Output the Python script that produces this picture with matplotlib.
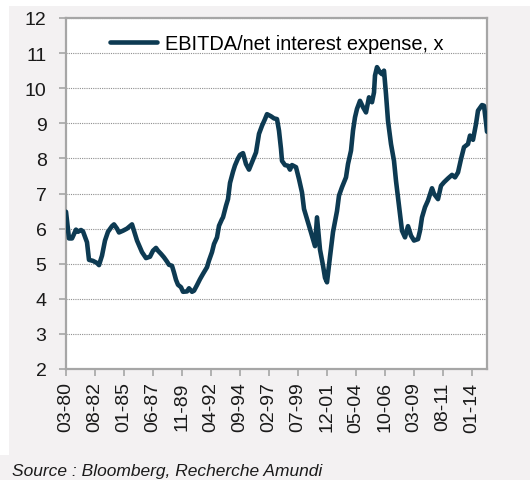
import numpy as np
import pandas as pd
import matplotlib
matplotlib.use("Agg")
import matplotlib.pyplot as plt
from matplotlib.patches import Rectangle

plt.rcParams['font.family'] = ['Liberation Sans', 'DejaVu Sans']

# EBITDA / net interest expense (x), read at turning points of the monthly series
dates = [
    "1980-03", "1980-06", "1980-09", "1981-01", "1981-03", "1981-06", "1981-08", "1981-12",
    "1982-02", "1982-06", "1982-10", "1982-12", "1983-03", "1983-06", "1983-09", "1984-01",
    "1984-03", "1984-06", "1984-08", "1984-12", "1985-04", "1985-07", "1985-09", "1985-11",
    "1986-02", "1986-07", "1986-11", "1987-03", "1987-06", "1987-09", "1987-11", "1988-02",
    "1988-05", "1988-08", "1988-10", "1989-01", "1989-03", "1989-05", "1989-07", "1989-10",
    "1989-12", "1990-04", "1990-06", "1990-09", "1990-11", "1991-02", "1991-05", "1991-08",
    "1991-12", "1992-02", "1992-05", "1992-07", "1992-10", "1992-12", "1993-03", "1993-04",
    "1993-07", "1993-09", "1993-11", "1994-02", "1994-04", "1994-07", "1994-09", "1994-12",
    "1995-03", "1995-06", "1995-09", "1996-01", "1996-04", "1996-07", "1996-10", "1996-12",
    "1997-04", "1997-07", "1997-10", "1997-12", "1998-02", "1998-03", "1998-06", "1998-09",
    "1998-11", "1999-01", "1999-05", "1999-08", "1999-11", "2000-01", "2000-05", "2000-08",
    "2000-12", "2001-02", "2001-05", "2001-08", "2001-10", "2001-12", "2002-03", "2002-06",
    "2002-10", "2002-12", "2003-03", "2003-07", "2003-09", "2003-12", "2004-02", "2004-04",
    "2004-06", "2004-09", "2004-12", "2005-03", "2005-06", "2005-09", "2005-11", "2005-12",
    "2006-02", "2006-05", "2006-07", "2006-09", "2006-11", "2007-01", "2007-04", "2007-07",
    "2007-09", "2007-11", "2008-01", "2008-03", "2008-06", "2008-09", "2008-12", "2009-03",
    "2009-07", "2009-09", "2009-11", "2010-02", "2010-05", "2010-09", "2010-11", "2011-03",
    "2011-06", "2011-09", "2012-01", "2012-05", "2012-08", "2012-11", "2013-02", "2013-05",
    "2013-09", "2013-11", "2014-02", "2014-05", "2014-07", "2014-11", "2015-01", "2015-03",
    "2015-04",
]
ratio = [
    6.48, 5.72, 5.72, 5.97, 5.91, 5.96, 5.92, 5.61,
    5.11, 5.08, 5.02, 4.96, 5.23, 5.66, 5.91, 6.07,
    6.12, 6.00, 5.89, 5.94, 6.00, 6.07, 6.12, 5.94,
    5.66, 5.33, 5.16, 5.20, 5.37, 5.45, 5.37, 5.28,
    5.18, 5.06, 4.97, 4.94, 4.75, 4.54, 4.40, 4.33,
    4.20, 4.21, 4.30, 4.20, 4.23, 4.39, 4.56, 4.71,
    4.90, 5.09, 5.33, 5.56, 5.75, 6.08, 6.27, 6.32,
    6.65, 6.84, 7.30, 7.62, 7.80, 8.00, 8.10, 8.15,
    7.84, 7.68, 7.89, 8.17, 8.70, 8.93, 9.12, 9.26,
    9.20, 9.14, 9.12, 8.79, 8.27, 7.93, 7.81, 7.79,
    7.68, 7.81, 7.75, 7.41, 7.03, 6.56, 6.18, 5.89,
    5.50, 6.32, 5.40, 4.95, 4.60, 4.47, 5.20, 5.90,
    6.50, 6.94, 7.18, 7.46, 7.84, 8.22, 8.79, 9.17,
    9.41, 9.64, 9.46, 9.31, 9.74, 9.60, 9.88, 10.36,
    10.60, 10.45, 10.40, 10.50, 9.83, 9.07, 8.41, 7.93,
    7.36, 6.89, 6.42, 5.94, 5.75, 6.07, 5.80, 5.66,
    5.70, 5.94, 6.32, 6.61, 6.80, 7.15, 6.99, 6.84,
    7.22, 7.32, 7.43, 7.53, 7.46, 7.60, 7.98, 8.32,
    8.41, 8.65, 8.53, 8.98, 9.36, 9.52, 9.50, 9.03,
    8.76,
]
series_name = "EBITDA/net interest expense, x"
source_text = "Source : Bloomberg, Recherche Amundi"
label_every = 29  # months between category labels

line_color = "#0d3a52"
bg_color = "#f3f1f2"
axis_gray = "#a6a6a6"

periods = pd.PeriodIndex(dates, freq="M")
start = periods[0]
xpos = np.array([(p - start).n for p in periods])
n_months = xpos[-1]

fig = plt.figure(figsize=(5.30, 4.81), dpi=100, facecolor=bg_color)
# white margins on top and left of the grey panel
fig.patches.append(Rectangle((0, 1 - 7 / 481), 1, 7 / 481, transform=fig.transFigure,
                             facecolor="white", edgecolor="none", zorder=0))
fig.patches.append(Rectangle((0, 1 - 456 / 481), 9 / 530, 1, transform=fig.transFigure,
                             facecolor="white", edgecolor="none", zorder=0))

ax = fig.add_axes([66 / 530, 1 - 370 / 481, 421 / 530, 351 / 481])
ax.set_facecolor("white")

ax.plot(xpos, ratio, color=line_color, lw=3.3, solid_joinstyle="round",
        solid_capstyle="round", label=series_name, zorder=3)

ax.set_xlim(0, n_months)
ax.set_ylim(2, 12)
ax.set_yticks(np.arange(2, 13, 1))
ax.yaxis.grid(True, color="#8f8f8f", linestyle=(0, (1, 1)), linewidth=0.8)
ax.set_axisbelow(True)

tick_pos = np.arange(0, n_months + 1, label_every)
ax.set_xticks(tick_pos)
ax.set_xticklabels([(start + int(k)).strftime("%m-%y") for k in tick_pos],
                   rotation=90, fontsize=14, color="#1a1a1a")
for lab in ax.get_yticklabels():
    lab.set_fontsize(14)
    lab.set_color("#1a1a1a")

for side in ["left", "right", "top", "bottom"]:
    ax.spines[side].set_color(axis_gray)
    ax.spines[side].set_linewidth(1.6)
ax.tick_params(axis="both", color=axis_gray, width=1.2, length=5)
ax.tick_params(axis="x", pad=4)
ax.tick_params(axis="y", pad=9)

ax.legend(loc="upper left", bbox_to_anchor=(0.104, 0.955), frameon=False,
          fontsize=14.4, handlelength=2.35, handletextpad=0.4,
          borderpad=0, borderaxespad=0)

fig.text(12 / 530, 1 - 476 / 481, source_text, fontsize=12.5, style="italic",
         color="#1a1a1a", ha="left", va="baseline")

fig.savefig("out.png", dpi=100, facecolor=bg_color)
